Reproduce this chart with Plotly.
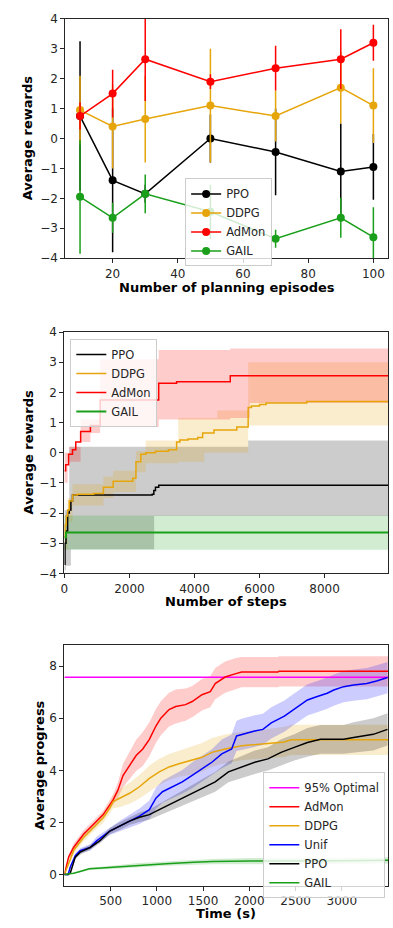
import plotly.graph_objects as go

# ---------------- Panel 1: rewards vs. planning episodes ----------------
episodes = [10, 20, 30, 50, 70, 90, 100]
ep_ppo_mean = [0.75, -1.4, -1.85, 0.0, -0.45, -1.1, -0.95]
ep_ppo_std = [2.5, 2.4, 0.3, 0.8, 1.45, 1.6, 1.1]
ep_ddpg_mean = [0.95, 0.4, 0.65, 1.1, 0.75, 1.7, 1.1]
ep_ddpg_std = [1.15, 1.4, 1.45, 1.9, 0.85, 1.2, 1.25]
ep_admon_mean = [0.75, 1.5, 2.65, 1.9, 2.35, 2.65, 3.2]
ep_admon_std = [0.45, 0.8, 1.4, 0.25, 0.75, 1.0, 0.6]
ep_gail_mean = [-1.95, -2.65, -1.85, -2.45, -3.35, -2.65, -3.3]
ep_gail_std = [1.9, 0.5, 0.65, 0.9, 0.3, 0.67, 1.0]

# ---------------- Panel 2: best reward so far vs. steps (step curves) ----------------
ppo_steps = [0, 20, 50, 100, 150, 200, 250, 2700, 2750, 2800, 2900, 9950]
ppo_best = [-3.7, -3.0, -2.6, -2.0, -1.9, -1.6, -1.4, -1.38, -1.25, -1.15, -1.08, -1.08]
ppo_hi_steps = [0, 150, 5650, 9950]
ppo_hi = [-1.9, 0.2, 0.4, 0.4]
ppo_lo_steps = [0, 50, 200, 2760, 9950]
ppo_lo = [-3.9, -3.75, -3.2, -2.1, -2.1]

ddpg_steps = [0, 20, 60, 100, 150, 250, 400, 900, 1200, 1500, 2100, 2200, 2350, 2500,
              2800, 3200, 3450, 3550, 3800, 4100, 4250, 4600, 5300, 5650, 5750, 6000,
              6200, 7450, 9950]
ddpg_best = [-2.8, -2.4, -2.1, -1.9, -1.6, -1.4, -1.38, -1.35, -1.15, -0.95, -0.85, -0.3,
             -0.05, 0.0, 0.05, 0.1, 0.35, 0.42, 0.45, 0.5, 0.65, 0.75, 0.85, 1.5, 1.55,
             1.6, 1.65, 1.7, 1.7]
ddpg_hi_steps = [0, 100, 250, 1200, 1500, 2200, 2500, 3500, 4700, 5650, 9950]
ddpg_hi = [-2.3, -1.5, -1.05, -0.8, -0.6, 0.05, 0.4, 1.15, 1.4, 3.0, 3.0]
ddpg_lo_steps = [0, 100, 250, 1200, 1500, 2200, 2500, 3500, 4300, 5650, 7450, 9950]
ddpg_lo = [-3.2, -2.3, -1.75, -1.5, -1.3, -0.65, -0.35, -0.3, 0.0, 0.9, 0.9, 0.9]

admon_steps = [0, 40, 130, 250, 350, 500, 800, 1100, 2900, 3450, 5100, 9950]
admon_best = [-0.6, -0.4, -0.05, 0.1, 0.35, 0.7, 0.9, 1.75, 2.3, 2.35, 2.55, 2.55]
admon_hi_steps = [0, 150, 500, 1100, 2900, 5100, 9950]
admon_hi = [0.0, 0.2, 1.1, 3.1, 3.4, 3.45, 3.45]
admon_lo_steps = [0, 100, 500, 800, 1100, 2900, 5100, 5700, 9950]
admon_lo = [-1.0, -0.3, 0.35, 0.65, 0.85, 1.1, 1.15, 1.65, 1.65]

gail_steps = [0, 50, 9950]
gail_best = [-2.8, -2.65, -2.65]
gail_hi_steps = [0, 9950]
gail_hi = [-2.08, -2.08]
gail_lo_steps = [0, 9950]
gail_lo = [-3.22, -3.22]

# ---------------- Panel 3: progress vs. wall-clock time ----------------
optimal_95 = 7.57

t_admon = [0, 46, 100, 207, 313, 420, 527, 580, 634, 705, 776, 848, 919, 990, 1043, 1132,
           1204, 1310, 1382, 1488, 1578, 1631, 1738, 1845, 1916, 2308, 2320, 3500]
prog_admon = [0, 0.67, 1.04, 1.55, 1.92, 2.3, 2.87, 3.25, 3.8, 4.19, 4.57, 4.82, 5.19, 5.7,
              6.0, 6.33, 6.45, 6.52, 6.64, 6.9, 7.02, 7.33, 7.58, 7.7, 7.77, 7.77, 7.8, 7.8]
std_admon = [0, 0.1, 0.15, 0.15, 0.15, 0.15, 0.2, 0.3, 0.45, 0.55, 0.6, 0.65, 0.65, 0.65,
             0.65, 0.65, 0.65, 0.62, 0.6, 0.6, 0.6, 0.6, 0.6, 0.6, 0.58, 0.58, 0.58, 0.58]

t_ddpg = [0, 46, 100, 207, 313, 420, 491, 527, 598, 705, 812, 919, 1026, 1132, 1239, 1382,
          1488, 1595, 1738, 1916, 2130, 2379, 2450, 3500]
prog_ddpg = [0, 0.42, 0.92, 1.42, 1.8, 2.18, 2.55, 2.8, 2.93, 3.12, 3.37, 3.69, 3.94, 4.13,
             4.25, 4.38, 4.5, 4.69, 4.82, 4.94, 5.0, 5.09, 5.17, 5.17]
std_ddpg = [0, 0.1, 0.15, 0.15, 0.15, 0.2, 0.2, 0.25, 0.35, 0.4, 0.45, 0.5, 0.5, 0.5, 0.5,
            0.55, 0.55, 0.55, 0.55, 0.55, 0.55, 0.58, 0.58, 0.58]

t_unif = [0, 40, 64, 118, 171, 278, 349, 420, 491, 598, 705, 812, 919, 990, 1061, 1168,
          1275, 1382, 1488, 1595, 1702, 1809, 1862, 1916, 2058, 2147, 2237, 2379, 2450,
          2557, 2628, 2735, 2842, 2913, 3020, 3127, 3270, 3376, 3494]
prog_unif = [0, 0, 0.29, 0.73, 0.92, 1.04, 1.3, 1.48, 1.67, 1.86, 2.05, 2.24, 2.49, 2.93,
             3.18, 3.37, 3.56, 3.81, 4.06, 4.31, 4.63, 4.82, 5.32, 5.38, 5.51, 5.57, 5.82,
             6.08, 6.26, 6.52, 6.7, 6.83, 6.96, 7.08, 7.21, 7.27, 7.33, 7.43, 7.56]
std_unif = [0, 0, 0.05, 0.1, 0.1, 0.12, 0.15, 0.15, 0.15, 0.2, 0.25, 0.3, 0.35, 0.4, 0.42,
            0.45, 0.45, 0.5, 0.5, 0.5, 0.55, 0.55, 0.58, 0.6, 0.6, 0.6, 0.6, 0.6, 0.6, 0.6,
            0.6, 0.6, 0.6, 0.6, 0.6, 0.6, 0.6, 0.6, 0.6]

t_ppo = [0, 40, 64, 118, 171, 278, 385, 491, 598, 705, 812, 919, 1026, 1132, 1239, 1346,
         1488, 1631, 1774, 1916, 2058, 2201, 2343, 2486, 2628, 2770, 3020, 3127, 3234, 3340,
         3494]
prog_ppo = [0, 0, 0.06, 0.67, 0.86, 1.04, 1.3, 1.67, 1.86, 2.05, 2.2, 2.3, 2.49, 2.68, 2.87,
            3.06, 3.31, 3.56, 3.94, 4.13, 4.31, 4.44, 4.69, 4.88, 5.07, 5.19, 5.19, 5.26,
            5.32, 5.38, 5.57]
std_ppo = [0, 0, 0.03, 0.08, 0.1, 0.1, 0.1, 0.12, 0.15, 0.15, 0.18, 0.2, 0.22, 0.25, 0.28,
           0.3, 0.35, 0.38, 0.4, 0.42, 0.45, 0.45, 0.5, 0.5, 0.55, 0.55, 0.55, 0.58, 0.6,
           0.62, 0.62]

t_gail = [0, 100, 170, 270, 400, 600, 800, 1100, 1400, 1600, 2000, 2500, 3000, 3500]
prog_gail = [0, 0.05, 0.12, 0.22, 0.25, 0.3, 0.37, 0.42, 0.47, 0.5, 0.52, 0.52, 0.53, 0.55]
std_gail = [0, 0.02, 0.03, 0.04, 0.05, 0.06, 0.07, 0.08, 0.09, 0.1, 0.12, 0.12, 0.12, 0.12]

# ---------------- styling ----------------
W, H = 393, 928
FONT = "DejaVu Sans"
INK = "#262626"
BLACK = "#000000"
GOLD = "#E6A50A"
RED = "#FF0000"
GREEN = "#1A9F1A"
BLUE = "#0000FF"
MAGENTA = "#FF00FF"


def rgba(hex_color, a):
    h = hex_color.lstrip("#")
    r, g, b = int(h[0:2], 16), int(h[2:4], 16), int(h[4:6], 16)
    return f"rgba({r},{g},{b},{a})"


def xdom(x0, x1):
    return [x0 / W, x1 / W]


def ydom(y_top, y_bottom):
    return [1 - y_bottom / H, 1 - y_top / H]


fig = go.Figure()

# Panel 1 traces
for name, mean, std, col in [
    ("PPO", ep_ppo_mean, ep_ppo_std, BLACK),
    ("DDPG", ep_ddpg_mean, ep_ddpg_std, GOLD),
    ("AdMon", ep_admon_mean, ep_admon_std, RED),
    ("GAIL", ep_gail_mean, ep_gail_std, GREEN),
]:
    fig.add_trace(go.Scatter(
        x=episodes, y=mean, name=name, mode="lines+markers",
        line=dict(color=col, width=1.5),
        marker=dict(color=col, size=8),
        error_y=dict(type="data", array=std, visible=True, color=col,
                     thickness=1.5, width=0),
        xaxis="x", yaxis="y", legend="legend",
    ))


# shaded range between a lower and an upper boundary
def band(xs_lo, lo, xs_hi, hi, col, shape, xa, ya):
    fig.add_trace(go.Scatter(x=xs_lo, y=lo, mode="lines", line=dict(width=0, shape=shape),
                             showlegend=False, hoverinfo="skip", xaxis=xa, yaxis=ya))
    fig.add_trace(go.Scatter(x=xs_hi, y=hi, mode="lines", line=dict(width=0, shape=shape),
                             fill="tonexty", fillcolor=rgba(col, 0.2),
                             showlegend=False, hoverinfo="skip", xaxis=xa, yaxis=ya))


# Panel 2 traces: shaded ranges first, then step curves
band(ppo_lo_steps, ppo_lo, ppo_hi_steps, ppo_hi, BLACK, "hv", "x2", "y2")
band(ddpg_lo_steps, ddpg_lo, ddpg_hi_steps, ddpg_hi, GOLD, "hv", "x2", "y2")
band(admon_lo_steps, admon_lo, admon_hi_steps, admon_hi, RED, "hv", "x2", "y2")
band(gail_lo_steps, gail_lo, gail_hi_steps, gail_hi, GREEN, "hv", "x2", "y2")

for name, xs, ys, col, w in [
    ("PPO", ppo_steps, ppo_best, BLACK, 1.5),
    ("DDPG", ddpg_steps, ddpg_best, GOLD, 1.5),
    ("AdMon", admon_steps, admon_best, RED, 1.5),
    ("GAIL", gail_steps, gail_best, GREEN, 2),
]:
    fig.add_trace(go.Scatter(x=xs, y=ys, name=name, mode="lines",
                             line=dict(color=col, width=w, shape="hv"),
                             xaxis="x2", yaxis="y2", legend="legend2"))

# Panel 3 traces
series3 = [
    ("AdMon", t_admon, prog_admon, std_admon, RED),
    ("DDPG", t_ddpg, prog_ddpg, std_ddpg, GOLD),
    ("Unif", t_unif, prog_unif, std_unif, BLUE),
    ("PPO", t_ppo, prog_ppo, std_ppo, BLACK),
    ("GAIL", t_gail, prog_gail, std_gail, GREEN),
]
for name, t, m, s, col in series3:
    lo = [a - b for a, b in zip(m, s)]
    hi = [a + b for a, b in zip(m, s)]
    band(t, lo, t, hi, col, "linear", "x3", "y3")

fig.add_trace(go.Scatter(x=[0, 3500], y=[optimal_95, optimal_95], name="95% Optimal",
                         mode="lines", line=dict(color=MAGENTA, width=1.5),
                         xaxis="x3", yaxis="y3", legend="legend3"))
for name, t, m, s, col in series3:
    fig.add_trace(go.Scatter(x=t, y=m, name=name, mode="lines",
                             line=dict(color=col, width=1.5),
                             xaxis="x3", yaxis="y3", legend="legend3"))

axis_common = dict(showline=True, mirror=True, linecolor=INK, linewidth=1,
                   ticks="outside", ticklen=4, tickwidth=1, tickcolor=INK,
                   showgrid=False, zeroline=False,
                   tickfont=dict(family=FONT, size=12, color=INK))

legend_common = dict(bgcolor="rgba(255,255,255,0.8)", bordercolor="#CCCCCC", borderwidth=1,
                     font=dict(family=FONT, size=11.5, color=INK), traceorder="normal",
                     xanchor="left", yanchor="top", tracegroupgap=0)

fig.update_layout(
    width=W, height=H, margin=dict(l=0, r=0, t=0, b=0),
    paper_bgcolor="white", plot_bgcolor="white",
    font=dict(family=FONT, size=12, color=INK),
    xaxis=dict(domain=xdom(62, 388), range=[5.5, 104.5], tickvals=[20, 40, 60, 80, 100],
               anchor="y", **axis_common),
    yaxis=dict(domain=ydom(12, 255), range=[-4, 4], dtick=1, anchor="x", **axis_common),
    xaxis2=dict(domain=xdom(61, 388), range=[0, 9950], tickvals=[0, 2000, 4000, 6000, 8000],
                anchor="y2", **axis_common),
    yaxis2=dict(domain=ydom(330, 575), range=[-4, 4], dtick=1, anchor="x2", **axis_common),
    xaxis3=dict(domain=xdom(61, 388), range=[0, 3500],
                tickvals=[500, 1000, 1500, 2000, 2500, 3000], anchor="y3", **axis_common),
    yaxis3=dict(domain=ydom(648, 892), range=[-0.42, 8.8], tickvals=[0, 2, 4, 6, 8],
                anchor="x3", **axis_common),
    legend=dict(x=183 / W, y=1 - 174 / H, **legend_common),
    legend2=dict(x=67 / W, y=1 - 337 / H, **legend_common),
    legend3=dict(x=262 / W, y=1 - 777 / H, **legend_common),
    showlegend=True,
)

title_font = dict(family=FONT, size=13, color=BLACK, weight="bold")
for text, x, y, ang in [
    ("Number of planning episodes", 225, 285, 0),
    ("Average rewards", 24, 133.5, -90),
    ("Number of steps", 224, 604, 0),
    ("Average rewards", 25, 452.5, -90),
    ("Time (s)", 224, 920, 0),
    ("Average progress", 36, 770, -90),
]:
    fig.add_annotation(text=text, x=x / W, y=1 - y / H, xref="paper", yref="paper",
                       showarrow=False, textangle=ang, font=title_font,
                       xanchor="center", yanchor="middle")

fig.write_html("out.html")
